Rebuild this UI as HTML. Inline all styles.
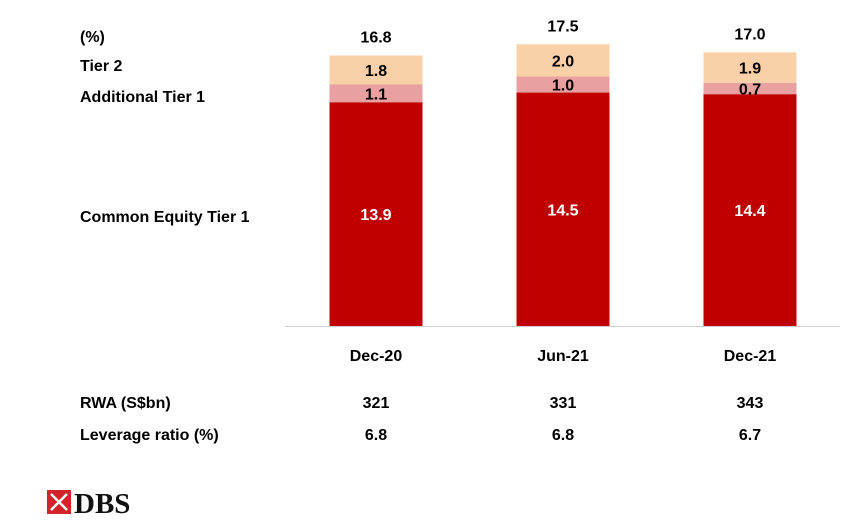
<!DOCTYPE html>
<html><head><meta charset="utf-8"><style>
body{margin:0;background:#fff;}
svg text{font-family:"Liberation Sans",sans-serif;font-weight:bold;}
</style></head><body>
<svg width="856" height="522" xmlns="http://www.w3.org/2000/svg">
<g id="chart"></g>
<text x="80" y="42" font-size="16" fill="#000">(%)</text>
<text x="80" y="71" font-size="16" fill="#000">Tier 2</text>
<text x="80" y="102" font-size="16" fill="#000">Additional Tier 1</text>
<text x="80" y="222" font-size="16" fill="#000">Common Equity Tier 1</text>
<line x1="285" y1="326.5" x2="840" y2="326.5" stroke="#d0d0d0" stroke-width="1"/>
<text x="80" y="408" font-size="16">RWA (S$bn)</text>
<text x="80" y="440" font-size="16">Leverage ratio (%)</text>
<g>
<rect x="47" y="490" width="24" height="24" fill="#d2232a"/>
<path d="M51 494 L67 510 M67 494 L51 510" stroke="#fff" stroke-width="2.5"/>
<text x="74" y="513" font-family="Liberation Serif,serif" font-size="29" fill="#111" style="font-family:'Liberation Serif',serif">DBS</text>
</g>
</svg>
<script>
const categories=["Dec-20","Jun-21","Dec-21"];
const cet1=[13.9,14.5,14.4];
const at1=[1.1,1.0,0.7];
const tier2=[1.8,2.0,1.9];
const totals=[16.8,17.5,17.0];
const rwa=[321,331,343];
const leverage=[6.8,6.8,6.7];
const NS="http://www.w3.org/2000/svg";
const g=document.getElementById("chart");
const svg=g.ownerSVGElement;
const base=326, scale=16.1;
const y=v=>base-v*scale;
const xc=i=>376+i*187;
const bw=93;
function txt(parent,x,yy,s,fill,size,name){const t=document.createElementNS(NS,"text");t.setAttribute("x",x);t.setAttribute("y",yy);t.setAttribute("text-anchor","middle");t.setAttribute("font-size",size);t.setAttribute("fill",fill);t.textContent=s;


parent.appendChild(t);}
function rect(x,y0,h,fill,name){const r=document.createElementNS(NS,"rect");r.setAttribute("x",x);r.setAttribute("y",y0);r.setAttribute("width",bw);r.setAttribute("height",h);r.setAttribute("fill",fill);


g.appendChild(r);}
categories.forEach((c,i)=>{
  const x=xc(i)-bw/2;
  const c1=y(cet1[i]), a1=y(cet1[i]+at1[i]), t2=y(cet1[i]+at1[i]+tier2[i]);
  rect(x,c1,base-c1,"#c00000","bar-cet1-"+c);
  rect(x,a1,c1-a1,"#e8a0a0","bar-at1-"+c);
  rect(x,t2,a1-t2,"#f9d0a8","bar-tier2-"+c);
  txt(g,xc(i),(base+c1)/2+6,cet1[i].toFixed(1),"#fff",16,"value-cet1");
  txt(g,xc(i),(c1+a1)/2+6,at1[i].toFixed(1),"#000",16,"value-at1");
  txt(g,xc(i),(a1+t2)/2+6,tier2[i].toFixed(1),"#000",16,"value-tier2");
  txt(g,xc(i),t2-13,totals[i].toFixed(1),"#000",16,"value-total");
  txt(svg,xc(i),361,c,"#000",16,"x-tick-label");
  txt(svg,xc(i),408,String(rwa[i]),"#000",16,"rwa-value");
  txt(svg,xc(i),440,leverage[i].toFixed(1),"#000",16,"leverage-value");
});
</script>
</body></html>
